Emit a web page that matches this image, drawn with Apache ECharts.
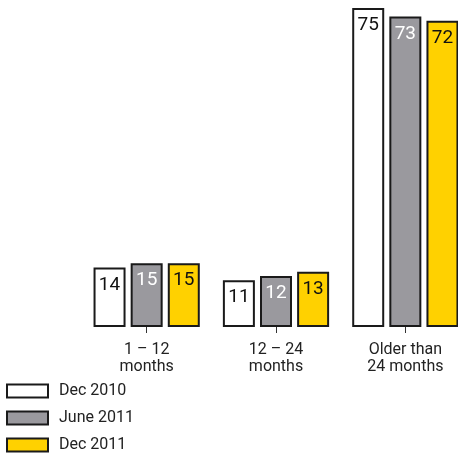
<!DOCTYPE html>
<html>
<head>
<meta charset="utf-8">
<script src="https://cdn.jsdelivr.net/npm/echarts@6.0.0/dist/echarts.min.js"></script>
<style>
  html, body { margin: 0; padding: 0; background: #fff; }
  #chart { width: 458px; height: 457px; }
</style>
</head>
<body>
<div id="chart"></div>
<script>
const categories = ['1 – 12\nmonths', '12 – 24\nmonths', 'Older than\n24 months']
const dec2010 = [14, 11, 75]
const june2011 = [15, 12, 73]
const dec2011 = [15, 13, 72]

const chart = echarts.init(document.getElementById('chart'))

const font = 'Roboto, sans-serif'
const edge = '#1a1a1a'

// one bar series, label colour differs for the grey bars
function barSeries(name, data, fill, labelColor) {
  return {
    name: name,
    type: 'bar',
    data: data,
    barWidth: 32,
    barGap: '16%',
    itemStyle: { color: fill, borderColor: edge, borderWidth: 2 },
    label: {
      show: true,
      position: 'insideTop',
      distance: 8,
      fontFamily: font,
      fontSize: 19,
      color: labelColor,
    },
  }
}

const option = {
  animation: false,
  backgroundColor: '#fff',
  // the last group runs off the right edge in the original
  grid: { left: 82, top: 8, width: 388, height: 319, outerBoundsMode: 'none' },
  legend: {
    orient: 'vertical',
    left: 6,
    top: 383,
    height: 80,
    padding: 0,
    icon: 'rect',
    itemWidth: 41,
    itemHeight: 13,
    itemGap: 11,
    textStyle: { fontFamily: font, fontSize: 16, color: '#222', lineHeight: 13, padding: [0, 0, 0, 6] },
    data: ['Dec 2010', 'June 2011', 'Dec 2011'],
  },
  xAxis: {
    type: 'category',
    data: categories,
    axisLine: { show: false },
    axisTick: { show: true, alignWithLabel: true, length: 6, lineStyle: { color: '#333' } },
    axisLabel: { fontFamily: font, fontSize: 16, color: '#222', lineHeight: 17, margin: 14 },
  },
  yAxis: {
    type: 'value',
    min: 0,
    max: 75,
    show: false,
    splitLine: { show: false },
  },
  series: [
    barSeries('Dec 2010', dec2010, '#ffffff', '#111'),
    barSeries('June 2011', june2011, '#9a999e', '#fff'),
    barSeries('Dec 2011', dec2011, '#ffd100', '#111'),
  ],
}

chart.setOption(option)
</script>
</body>
</html>
